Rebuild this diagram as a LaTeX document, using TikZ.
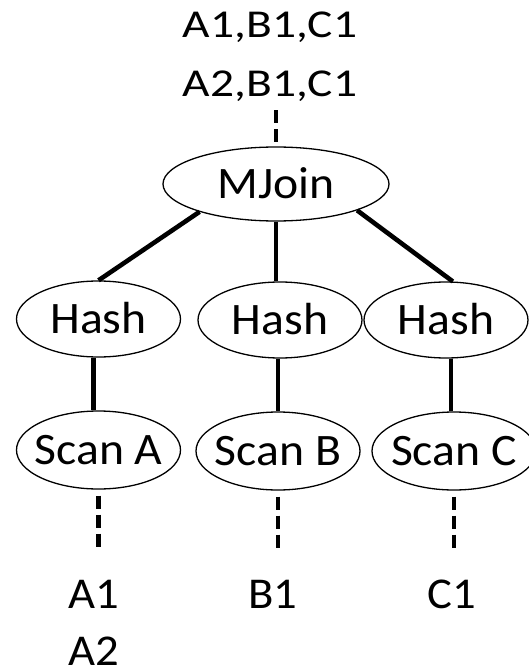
\documentclass[tikz,border=0pt]{standalone}
\usepackage{fontspec}
\setmainfont{Carlito}
\newfontfamily\opfont[FakeStretch=1.06]{Carlito}
\newfontfamily\rowfont[FakeStretch=1.2]{Carlito}
\usetikzlibrary{shapes.geometric}
% zero-width box keeps the text from widening an ellipse
\newcommand{\zw}[1]{\makebox[0pt]{#1}}

\begin{document}
\begin{tikzpicture}[x=1pt,y=-1pt,
  op/.style={ellipse, draw, line width=1.3pt, inner sep=0pt,
    font=\opfont\fontsize{45}{45}\selectfont, text height=28.5pt, text depth=0pt},
  joinop/.style={op, minimum width=226pt, minimum height=74pt},
  hashop/.style={op, minimum width=164pt, minimum height=76pt},
  scanop/.style={op, minimum width=164pt, minimum height=78pt},
  tuple/.style={inner sep=0pt, font=\opfont\fontsize{44}{44}\selectfont,
    text height=28pt, text depth=0pt},
  outrow/.style={inner sep=0pt, font=\rowfont\fontsize{39.5}{39.5}\selectfont,
    text height=25pt, text depth=0pt},
  conn/.style={line width=4.6pt},
  dashline/.style={line width=4.6pt, dash pattern=on 13pt off 6pt}
]
\useasboundingbox (0,0) rectangle (529,671);

% output tuples
\node[outrow] (t1) at (270,25.5) {A1,B1,C1};
\node[outrow] (t2) at (270,84.5) {A2,B1,C1};

% operators
\node[joinop] (m) at (276,184) {\zw{MJoin}};
\node[hashop] (h1) at (98.5,319) {\zw{Hash}};
\node[hashop] (h2) at (280,320) {\zw{Hash}};
\node[hashop] (h3) at (446,320) {\zw{Hash}};
\node[scanop] (s1) at (98.5,450) {\zw{Scan A}};
\node[scanop] (s2) at (278,451) {\zw{Scan B}};
\node[scanop] (s3) at (454,451) {\zw{Scan C}};

% input tuples
\node[tuple] (a1) at (94,594) {A1};
\node[tuple] (a2) at (94,651) {A2};
\node[tuple] (b1) at (273,594) {B1};
\node[tuple] (c1) at (452,594) {C1};

% plan edges
\draw[conn] (m.200) -- (h1.north);
\draw[conn] (m.south) -- (m.south |- h2.north);
\draw[conn] (m.342) -- (h3.80);
\draw[conn] ([xshift=-5pt]h1.south) -- ([xshift=-5pt]h1.south |- s1.north);
\draw[conn] (s2.north |- h2.south) -- (s2.north);
\draw[conn] ([xshift=5pt]h3.south) -- ([xshift=5pt]h3.south |- s3.north);

% tuple flow
\draw[dashline, shorten <=13pt, shorten >=4pt] (t2.south -| m.north) -- (m.north);
\draw[dashline, shorten <=6pt, shorten >=28pt] (s1.south) -- (s1.south |- a1.north);
\draw[dashline, shorten <=6pt, shorten >=28pt] (s2.south) -- (s2.south |- b1.north);
\draw[dashline, shorten <=6pt, shorten >=28pt] (s3.south) -- (s3.south |- c1.north);
\end{tikzpicture}
\end{document}
